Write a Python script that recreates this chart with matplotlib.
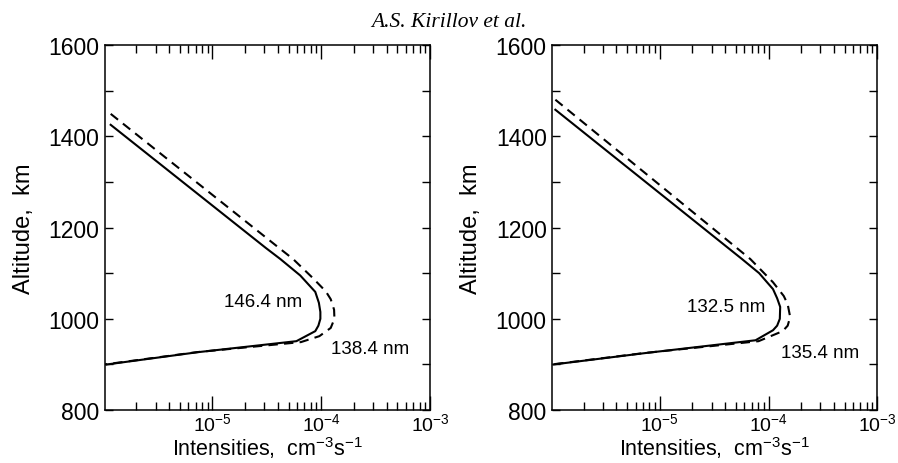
import matplotlib
matplotlib.use('Agg')
import matplotlib.pyplot as plt
from matplotlib.ticker import LogLocator, MultipleLocator, NullFormatter

plt.rcParams['font.family'] = ['Liberation Sans', 'DejaVu Sans']
plt.rcParams['mathtext.fontset'] = 'custom'
plt.rcParams['mathtext.rm'] = 'Liberation Sans'

# left panel (146.4 nm solid, 138.4 nm dashed)
alt_a1 = [1425, 1155, 1131, 1095, 1059, 1035, 1015, 1000, 985, 973, 951, 927, 900]
int_a1 = [1.16e-6, 3.1e-5, 4.2e-5, 6.4e-5, 8.8e-5, 9.5e-5, 9.8e-5, 9.8e-5, 9.4e-5, 8.8e-5, 5.9e-5, 7.4e-6, 1.07e-6]
alt_a2 = [1449, 1155, 1131, 1090, 1060, 1043, 1020, 1000, 980, 962, 949, 927, 900]
int_a2 = [1.16e-6, 4.1e-5, 5.5e-5, 8.3e-5, 1.1e-4, 1.22e-4, 1.31e-4, 1.32e-4, 1.22e-4, 9.6e-5, 6.5e-5, 7.2e-6, 1.02e-6]

# right panel (132.5 nm solid, 135.4 nm dashed)
alt_b1 = [1458, 1131, 1100, 1065, 1045, 1026, 1000, 985, 975, 953, 925, 900]
int_b1 = [1.1e-6, 5.7e-5, 8.2e-5, 1.1e-4, 1.2e-4, 1.28e-4, 1.27e-4, 1.2e-4, 1.1e-4, 7.6e-5, 7.4e-6, 1.06e-6]
alt_b2 = [1480, 1131, 1080, 1050, 1032, 1004, 985, 973, 951, 925, 900]
int_b2 = [1.1e-6, 6.8e-5, 1.1e-4, 1.38e-4, 1.5e-4, 1.58e-4, 1.5e-4, 1.35e-4, 8.1e-5, 7.2e-6, 1.02e-6]

panels = [
    (alt_a1, int_a1, alt_a2, int_a2, '146.4 nm', (2.9e-5, 1037), '138.4 nm', (2.8e-4, 934)),
    (alt_b1, int_b1, alt_b2, int_b2, '132.5 nm', (4.1e-5, 1026), '135.4 nm', (2.95e-4, 927)),
]

fig = plt.figure(figsize=(8.98, 4.64), dpi=100)
lefts = [0.117, 0.615]

for left, (ya, xa, yb, xb, lab1, pos1, lab2, pos2) in zip(lefts, panels):
    ax = fig.add_axes([left, 0.114, 0.362, 0.787])
    ax.plot(xa, ya, color='black', lw=1.5)
    ax.plot(xb, yb, color='black', lw=1.5, dashes=(4.5, 3))
    ax.set_xscale('log')
    ax.set_xlim(1.03e-6, 1e-3)
    ax.set_ylim(800, 1600)
    ax.set_xticks([1e-5, 1e-4, 1e-3])
    ax.set_xticklabels([r'$\mathregular{10^{-5}}$', r'$\mathregular{10^{-4}}$', r'$\mathregular{10^{-3}}$'])
    ax.xaxis.set_minor_locator(LogLocator(base=10, subs=range(2, 10)))
    ax.xaxis.set_minor_formatter(NullFormatter())
    ax.yaxis.set_major_locator(MultipleLocator(200))
    ax.yaxis.set_minor_locator(MultipleLocator(100))
    ax.tick_params(which='both', direction='in', top=True, right=True, width=1)
    ax.tick_params(axis='x', which='major', length=10, pad=1.5, labelsize=14)
    ax.tick_params(axis='x', which='minor', length=6)
    ax.tick_params(axis='y', which='both', length=6, pad=4, labelsize=16.5)
    for s in ax.spines.values():
        s.set_linewidth(1.1)
    ax.set_ylabel('Altitude,  km', fontsize=17, labelpad=10)
    ax.set_xlabel(r'Intensities,  cm$\mathregular{^{-3}}$s$\mathregular{^{-1}}$', fontsize=15.5, labelpad=0)
    ax.text(pos1[0], pos1[1], lab1, fontsize=13.5, ha='center', va='center')
    ax.text(pos2[0], pos2[1], lab2, fontsize=13.5, ha='center', va='center')

fig.text(0.5, 0.942, 'A.S. Kirillov et al.', fontsize=15.5, style='italic',
         family='Liberation Serif', ha='center', va='baseline')

plt.savefig('out.png', dpi=100)
